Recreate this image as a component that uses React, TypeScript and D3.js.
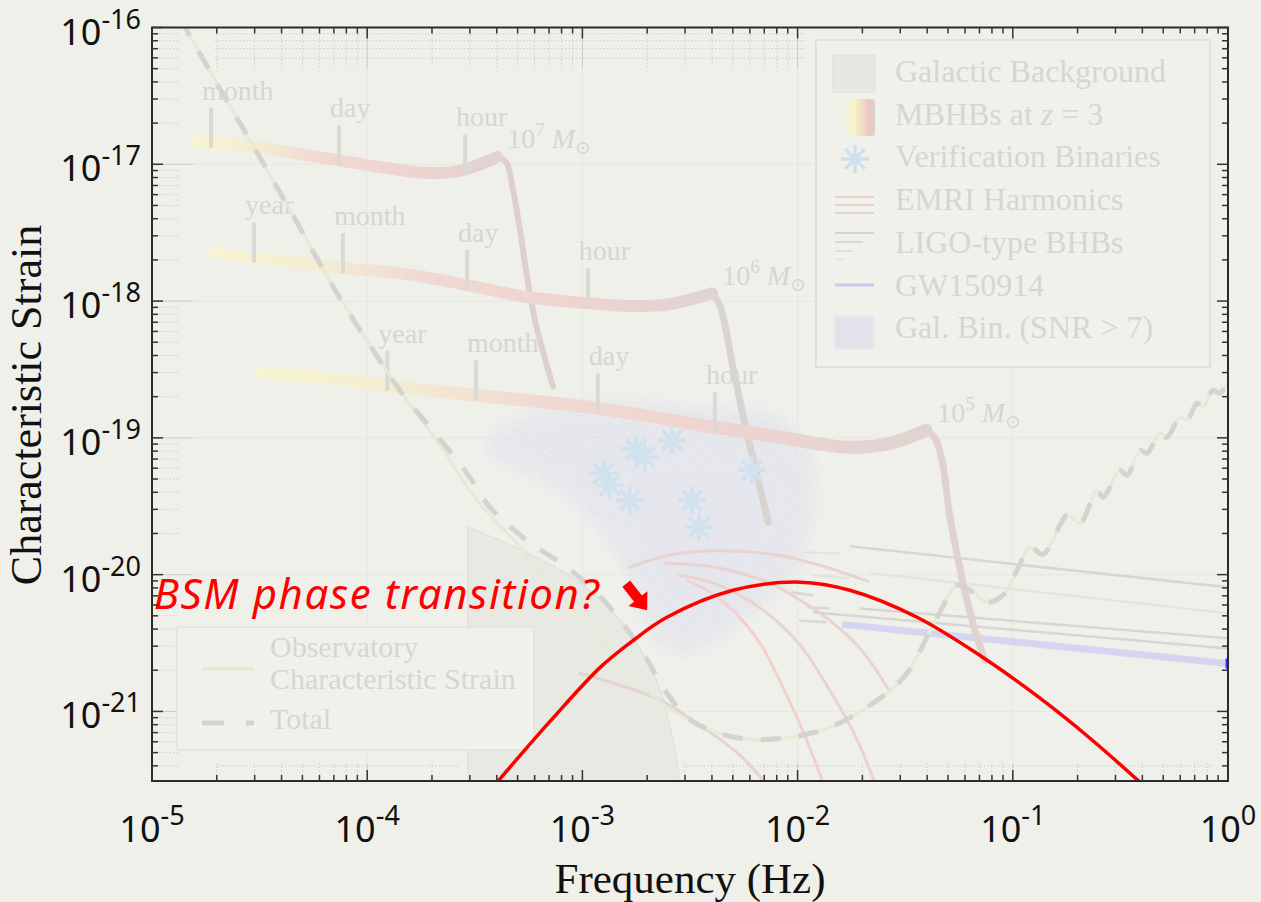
import React from "react";
import * as d3 from "d3";

const W = 1261, H = 902;
const PL = 152, PR = 1228, PT = 27.5, PB = 781;
const BG = "#f0f0eb";

const fDomain = [1e-5, 1];
const hDomain = [3.1e-22, 1e-16];
const xTickExps = [-5, -4, -3, -2, -1, 0];
const yTickExps = [-16, -17, -18, -19, -20, -21];

// Observatory characteristic strain (LISA-like sensitivity)
const sensitivity = [
  [1.35e-5, 1.17e-16], [1.96e-5, 4.13e-17], [2.85e-5, 1.5e-17], [4.38e-5, 4.62e-18],
  [7.24e-5, 1.14e-18], [1.03e-4, 4.75e-19], [1.45e-4, 2.12e-19], [2.18e-4, 8.83e-20],
  [3.24e-4, 3.49e-20], [4.97e-4, 1.69e-20], [7.07e-4, 8.36e-21], [1.05e-3, 4.41e-21],
  [1.72e-3, 1.77e-21], [2.75e-3, 9.66e-22], [4.36e-3, 6.9e-22], [6.01e-3, 6.24e-22],
  [9.22e-3, 6.46e-22], [1.41e-2, 7.64e-22], [2.17e-2, 1.11e-21], [3.16e-2, 1.83e-21],
  [4.45e-2, 4.88e-21], [5.51e-2, 8.36e-21], [6.32e-2, 7.69e-21], [7.67e-2, 6.28e-21],
  [9.0e-2, 7.08e-21], [0.1046, 1.07e-20], [0.12, 1.585e-20], [0.138, 1.41e-20],
  [0.1657, 2.3e-20], [0.1786, 2.72e-20], [0.2053, 2.38e-20], [0.246, 4.14e-20],
  [0.2625, 3.68e-20], [0.3148, 5.79e-20], [0.3395, 5.32e-20], [0.39, 8.11e-20],
  [0.4203, 7.71e-20], [0.483, 1.08e-19], [0.5206, 1.01e-19], [0.598, 1.42e-19],
  [0.645, 1.35e-19], [0.718, 1.79e-19], [0.765, 1.68e-19], [0.852, 2.23e-19],
  [0.918, 2.12e-19], [1.02, 2.87e-19],
];
// Total (with galactic confusion) where it departs from the sensitivity
const totalMid = [
  [2.07e-4, 1.08e-19], [2.91e-4, 5.51e-20], [3.72e-4, 3.1e-20], [5.53e-4, 1.78e-20],
  [8.48e-4, 1.13e-20], [1.17e-3, 7.29e-21], [1.5e-3, 4.63e-21], [1.85e-3, 2.94e-21],
  [2.47e-3, 1.36e-21], [3.16e-3, 8.74e-22],
];
// Galactic background shaded region, top edge
const galBgEdge = [
  [2.94e-4, 2.22e-20], [5.13e-4, 1.53e-20], [8.48e-4, 1.007e-20], [1.34e-3, 5.66e-21],
  [1.85e-3, 2.89e-21], [2.3e-3, 1.43e-21], [2.64e-3, 6.15e-22], [2.84e-3, 3.1e-22],
];
// Galactic binaries (SNR > 7) cloud outline
const galBinCloud = [
  [3.6e-4, 8.3e-20], [5.13e-4, 1.4e-19], [1.21e-3, 1.78e-19], [3.52e-3, 1.65e-19],
  [8.6e-3, 1.35e-19], [1.15e-2, 6.86e-20], [1.15e-2, 2.3e-20], [1.0e-2, 1.05e-20],
  [6.69e-3, 5.8e-21], [4.36e-3, 3.5e-21], [2.84e-3, 2.7e-21], [2.17e-3, 3.4e-21],
  [1.66e-3, 9.89e-21], [1.21e-3, 2.11e-20], [7.87e-4, 4.14e-20], [4.9e-4, 6.0e-20],
];
// denser core of the cloud
const galBinCore = [
  [1.3e-3, 6.0e-20], [3.0e-3, 8.0e-20], [7.5e-3, 6.0e-20], [8.5e-3, 2.2e-20],
  [5.5e-3, 7.0e-21], [3.2e-3, 4.2e-21], [2.1e-3, 6.5e-21], [1.5e-3, 2.0e-20],
];
// MBHB tracks
const mbhb7Inspiral = [
  [1.58e-5, 1.48e-17], [3.18e-5, 1.32e-17], [7.31e-5, 1.07e-17], [1.42e-4, 9.08e-18],
  [2.02e-4, 8.63e-18], [2.79e-4, 9.08e-18], [3.45e-4, 1.02e-17], [4.01e-4, 1.13e-17],
];
const mbhb7Ringdown = [
  [4.01e-4, 1.13e-17], [4.42e-4, 1.04e-17], [4.76e-4, 6.47e-18], [5.13e-4, 3.3e-18],
  [5.53e-4, 1.5e-18], [6.02e-4, 7.24e-19], [6.63e-4, 4.02e-19], [7.3e-4, 2.38e-19],
];
const mbhb6Inspiral = [
  [1.96e-5, 2.24e-18], [3.18e-5, 2.06e-18], [7.72e-5, 1.74e-18], [1.42e-4, 1.6e-18],
  [2.91e-4, 1.31e-18], [5.53e-4, 1.07e-18], [1.06e-3, 9.66e-19], [1.72e-3, 9.19e-19],
  [2.55e-3, 9.5e-19], [3.34e-3, 1.05e-18], [4.0e-3, 1.14e-18],
];
const mbhb6Ringdown = [
  [4.0e-3, 1.14e-18], [4.36e-3, 9.19e-19], [5.01e-3, 3.28e-19], [5.82e-3, 1.08e-19],
  [6.69e-3, 4.36e-20], [7.29e-3, 2.42e-20],
];
const mbhb5Inspiral = [
  [3.18e-5, 2.97e-19], [6.72e-5, 2.73e-19], [1.42e-4, 2.34e-19], [3.2e-4, 2.05e-19],
  [1.17e-3, 1.65e-19], [4.05e-3, 1.2e-19], [8.28e-3, 1.01e-19], [1.75e-2, 8.53e-20],
  [2.69e-2, 9.12e-20], [3.51e-2, 1.05e-19], [3.95e-2, 1.14e-19],
];
const mbhb5Ringdown = [
  [3.95e-2, 1.14e-19], [4.35e-2, 9.95e-20], [4.69e-2, 6.87e-20], [5.11e-2, 2.62e-20],
  [5.87e-2, 8.67e-21], [6.67e-2, 3.93e-21], [7.43e-2, 2.36e-21],
];
const mbhb7TickFreqs = [1.88e-5, 7.4e-5, 2.85e-4];
const mbhb7TickLabels = ["month", "day", "hour"];
const mbhb6TickFreqs = [2.98e-5, 7.72e-5, 2.91e-4, 1.06e-3];
const mbhb6TickLabels = ["year", "month", "day", "hour"];
const mbhb5TickFreqs = [1.24e-4, 3.2e-4, 1.18e-3, 4.13e-3];
const mbhb5TickLabels = ["year", "month", "day", "hour"];
const massLabelPos = [[4.47e-4, 1.32e-17], [4.46e-3, 1.31e-18], [4.45e-2, 1.3e-19]];
const massLabelExps = ["7", "6", "5"];

// Verification binaries
const verificationBinaries = [
  [1.25e-3, 5.51e-20], [1.34e-3, 4.51e-20], [1.66e-3, 3.49e-20], [1.77e-3, 8.26e-20],
  [1.95e-3, 7.22e-20], [2.61e-3, 9.59e-20], [3.23e-3, 3.49e-20], [3.48e-3, 2.22e-20],
  [6.14e-3, 5.79e-20],
];
// EMRI harmonics
const emriA = [[1.66e-3, 1.13e-20], [2.3e-3, 1.34e-20], [3.52e-3, 1.48e-20], [5.4e-3, 1.48e-20], [8.28e-3, 1.38e-20], [1.27e-2, 1.17e-20], [2.12e-2, 8.93e-21]];
const emriB = [[2.42e-3, 1.21e-20], [3.52e-3, 1.17e-20], [4.9e-3, 1.07e-20], [7.44e-3, 8.67e-21], [1.03e-2, 6.49e-21], [1.41e-2, 4.63e-21], [1.95e-2, 2.89e-21], [2.66e-2, 1.43e-21]];
const emriC = [[2.84e-3, 9.89e-21], [3.92e-3, 8.81e-21], [5.4e-3, 7.08e-21], [7.44e-3, 5.04e-21], [1.03e-2, 3.04e-21], [1.41e-2, 1.43e-21], [1.85e-2, 6.67e-22], [2.41e-2, 2.43e-22]];
const emriD = [[3.06e-3, 9.1e-21], [3.92e-3, 7.44e-21], [5.01e-3, 5.48e-21], [6.69e-3, 3.15e-21], [8.55e-3, 1.5e-21], [1.08e-2, 6.67e-22], [1.38e-2, 2.43e-22]];
const emriE = [[9.75e-4, 1.9e-21], [1.5e-3, 1.55e-21], [2.3e-3, 1.21e-21], [3.52e-3, 7.93e-22], [5.4e-3, 4.78e-22], [7.6e-3, 2.64e-22]];
// LIGO-type BHBs: [f1, h1, f2, h2]
const ligoLines = [
  [1.75e-2, 1.61e-20, 1.0, 8.07e-21], [2.17e-2, 1.03e-20, 1.0, 5.21e-21],
  [1.95e-2, 5.66e-21, 1.0, 3.42e-21], [1.18e-2, 5.3e-21, 1.0, 2.89e-21],
];
const ligoFragments = [
  [9.31e-3, 7.44e-21, 1.18e-2, 7.08e-21], [1.11e-2, 5.77e-21, 1.41e-2, 5.66e-21],
  [1.015e-2, 4.63e-21, 1.355e-2, 4.48e-21], [1.06e-2, 1.46e-20, 1.57e-2, 1.43e-20],
  [1.18e-2, 9.89e-21, 1.75e-2, 9.42e-21],
];
const gw150914 = [[1.61e-2, 4.33e-21], [1.0, 2.24e-21]];
// BSM phase transition
const bsmCurve = [
  [3.72e-4, 2.64e-22], [7.07e-4, 8.45e-22], [1.21e-3, 2.1e-21], [1.72e-3, 3.3e-21],
  [2.47e-3, 4.88e-21], [5.01e-3, 7.69e-21], [1.03e-2, 8.81e-21], [1.75e-2, 7.69e-21],
  [3.59e-2, 4.88e-21], [7.27e-2, 2.48e-21], [0.1338, 1.25e-21], [0.2284, 6.37e-22],
  [0.425, 2.69e-22],
];
const arrowTip = [2.0e-3, 5.48e-21];
const bsmLabel = "BSM phase transition?";

const legendLabels = ["Galactic Background", "MBHBs at ", "Verification Binaries", "EMRI Harmonics", "LIGO-type BHBs", "GW150914", "Gal. Bin. (SNR > 7)"];
const legend2Labels = ["Observatory", "Characteristic Strain", "Total"];

const SERIF = "'Liberation Serif', 'DejaVu Serif', serif";
const SANS = "'Noto Sans', 'DejaVu Sans', sans-serif";
const FAINT_TXT = "#d6d6d1";

function asterisk(cx, cy, r) {
  const d = r * Math.SQRT1_2;
  return `M${cx - r},${cy}L${cx + r},${cy}M${cx},${cy - r}L${cx},${cy + r}M${cx - d},${cy - d}L${cx + d},${cy + d}M${cx - d},${cy + d}L${cx + d},${cy - d}`;
}

export default function App() {
  const x = d3.scaleLog().domain(fDomain).range([PL, PR]);
  const y = d3.scaleLog().domain(hDomain).range([PB, PT]);
  const curve = d3.curveCatmullRom.alpha(0.5);
  const line = d3.line().x((d) => x(d[0])).y((d) => y(d[1])).curve(curve);
  const closed = d3.line().x((d) => x(d[0])).y((d) => y(d[1])).curve(d3.curveCatmullRomClosed.alpha(0.5));

  const total = [...sensitivity.slice(0, 7), ...totalMid, ...sensitivity.slice(14)];
  const galBgPath =
    line(galBgEdge) +
    `L${x(galBgEdge[galBgEdge.length - 1][0])},${PB + 2}L${x(galBgEdge[0][0])},${PB + 2}Z`;

  const isMajor = (t) => Math.abs(Math.log10(t) - Math.round(Math.log10(t))) < 1e-6;
  const xTicks = x.ticks();
  const yTicks = y.ticks();

  const tracks = [
    { id: "t7", ins: mbhb7Inspiral, ring: mbhb7Ringdown, tf: mbhb7TickFreqs, tl: mbhb7TickLabels, ringColor: "#e0d0cd", w: 12, rw: 6 },
    { id: "t6", ins: mbhb6Inspiral, ring: mbhb6Ringdown, tf: mbhb6TickFreqs, tl: mbhb6TickLabels, ringColor: "#d9d4d1", w: 12, rw: 7 },
    { id: "t5", ins: mbhb5Inspiral, ring: mbhb5Ringdown, tf: mbhb5TickFreqs, tl: mbhb5TickLabels, ringColor: "#e1d2cf", w: 13, rw: 7 },
  ];
  const trackStops = [
    [0, "#f6f4d2"], [0.2, "#f4edd3"], [0.42, "#f0d9d3"], [0.72, "#eed4d0"], [1, "#e0d3d0"],
  ];
  const trackY = (pts, f) => {
    const s = d3.scaleLinear().domain(pts.map((p) => Math.log10(p[0]))).range(pts.map((p) => Math.log10(p[1])));
    return y(Math.pow(10, s(Math.log10(f))));
  };

  const tip = [x(arrowTip[0]), y(arrowTip[1])];
  const legY0 = 82, legStep = 42.7;

  return (
    <svg width={W} height={H} style={{ position: "absolute", left: 0, top: 0, display: "block" }}>
      <defs>
        <clipPath id="plotClip">
          <rect x={PL} y={PT} width={PR - PL} height={PB - PT} />
        </clipPath>
        <filter id="cloudBlur" x="-20%" y="-20%" width="140%" height="140%">
          <feGaussianBlur stdDeviation="9" />
        </filter>
        <filter id="speckle" x="-20%" y="-20%" width="140%" height="140%">
          <feGaussianBlur in="SourceGraphic" stdDeviation="9" result="soft" />
          <feTurbulence type="fractalNoise" baseFrequency="0.9" numOctaves="1" seed="4" result="noise" />
          <feColorMatrix in="noise" type="matrix" values="0 0 0 0 0  0 0 0 0 0  0 0 0 0 0  0 0 0 4 -1.6" result="nmask" />
          <feComposite in="soft" in2="nmask" operator="in" />
        </filter>
        <filter id="legBlur">
          <feGaussianBlur stdDeviation="1.2" />
        </filter>
        {tracks.map((t) => (
          <linearGradient key={t.id} id={"grad" + t.id} gradientUnits="userSpaceOnUse"
            x1={x(t.ins[0][0])} x2={x(t.ins[t.ins.length - 1][0])} y1={0} y2={0}>
            {trackStops.map(([o, c], i) => <stop key={i} offset={o} stopColor={c} />)}
          </linearGradient>
        ))}
        <linearGradient id="legMBHB" x1="0" x2="1" y1="0" y2="0">
          <stop offset="0" stopColor="#f3f2dd" />
          <stop offset="0.3" stopColor="#f6f2c6" />
          <stop offset="0.55" stopColor="#f3e0c8" />
          <stop offset="0.78" stopColor="#edc6c1" />
          <stop offset="1" stopColor="#d8d0cd" />
        </linearGradient>
      </defs>

      <rect x={0} y={0} width={W} height={H} fill={BG} />

      {/* faint grid inside plot */}
      <g stroke="#e7e7e2" strokeWidth={1}>
        {xTickExps.slice(1, -1).map((e) => (
          <line key={"vx" + e} x1={x(Math.pow(10, e))} x2={x(Math.pow(10, e))} y1={PT} y2={PB} />
        ))}
        {yTickExps.slice(1).map((e) => (
          <line key={"hy" + e} x1={PL} x2={PR} y1={y(Math.pow(10, e))} y2={y(Math.pow(10, e))} />
        ))}
      </g>
      {/* grid visible in the margin strips */}
      <g fill="none" strokeWidth={1}>
        {xTicks.filter((t) => x(t) > 212 && x(t) < 806).map((t, i) => (
          <line key={"tg" + i} x1={x(t)} x2={x(t)} y1={PT} y2={68}
            stroke={isMajor(t) ? "#c9c9c5" : "#cdcdc9"} strokeDasharray={isMajor(t) ? null : "1.5,2"} />
        ))}
        {yTicks.filter((t) => y(t) > PT + 2 && y(t) < 67).map((t, i) => (
          <line key={"th" + i} x1={215} x2={805} y1={y(t)} y2={y(t)} stroke="#cdcdc9" strokeDasharray="1.5,2" />
        ))}
        {yTicks.filter((t) => y(t) > PT + 2 && y(t) < PB - 2).map((t, i) => (
          <line key={"lg" + i} x1={PL} x2={isMajor(t) ? PL + 41 : PL + 26} y1={y(t)} y2={y(t)}
            stroke={isMajor(t) ? "#c9c9c5" : "#cdcdc9"} strokeDasharray={isMajor(t) ? null : "1.5,2"} />
        ))}
        {yTicks.filter((t) => y(t) > 760 && y(t) < PB - 2).map((t, i) => (
          <g key={"bh" + i}>
            <line x1={215} x2={460} y1={y(t)} y2={y(t)} stroke="#cdcdc9" strokeDasharray="1.5,2" />
            <line x1={683} x2={1212} y1={y(t)} y2={y(t)} stroke="#cdcdc9" strokeDasharray="1.5,2" />
          </g>
        ))}
        {xTicks.filter((t) => (x(t) > 212 && x(t) < 462) || (x(t) > 680 && x(t) < 1214)).map((t, i) => (
          <line key={"bv" + i} x1={x(t)} x2={x(t)} y1={763} y2={PB}
            stroke={isMajor(t) ? "#c9c9c5" : "#cdcdc9"} strokeDasharray={isMajor(t) ? null : "1.5,2"} />
        ))}
      </g>

      <g clipPath="url(#plotClip)">
        {/* galactic background */}
        <path d={galBgPath} fill="#e8e9e3" stroke="#e1e2dc" strokeWidth={1.5} />
        {/* galactic binaries cloud */}
        <path d={closed(galBinCloud)} fill="#e8e9ee" filter="url(#cloudBlur)" opacity={0.7} />
        <path d={closed(galBinCloud)} fill="#dcdde8" filter="url(#speckle)" opacity={0.7} />
        <path d={closed(galBinCore)} fill="#e6e7ee" filter="url(#cloudBlur)" opacity={0.8} />
        {/* LIGO-type BHBs */}
        {ligoLines.map((l, i) => (
          <line key={"lg" + i} x1={x(l[0])} y1={y(l[1])} x2={x(l[2])} y2={y(l[3])}
            stroke={i === 1 ? "#e2e2de" : "#d6d6d2"} strokeWidth={i === 1 ? 2 : 2.5} />
        ))}
        {ligoFragments.map((l, i) => (
          <line key={"lf" + i} x1={x(l[0])} y1={y(l[1])} x2={x(l[2])} y2={y(l[3])}
            stroke={i >= 3 ? "#e3e3df" : "#d8d8d4"} strokeWidth={2.5} />
        ))}
        {/* GW150914 */}
        <path d={line(gw150914)} stroke="#d5d5ef" strokeWidth={7} fill="none" />
        <line x1={PR - 1} x2={PR - 1} y1={y(gw150914[1][1]) - 5} y2={y(gw150914[1][1]) + 5} stroke="#3a3aff" strokeWidth={3} />
        {/* EMRI harmonics */}
        {[emriA, emriB, emriC, emriD, emriE].map((e, i) => (
          <path key={"em" + i} d={line(e)} fill="none" strokeWidth={3} strokeLinecap="round"
            stroke={i === 3 ? "#f3d0cd" : i === 4 ? "#e6d2ce" : "#e9d3cf"} />
        ))}
        {/* MBHB tracks */}
        {tracks.map((t) => (
          <g key={t.id}>
            <path d={line(t.ring)} fill="none" stroke={t.ringColor} strokeWidth={t.rw} strokeLinecap="round" />
            <path d={line(t.ins)} fill="none" stroke={`url(#grad${t.id})`} strokeWidth={t.w} strokeLinecap="round" strokeLinejoin="round" />
            {t.tf.map((f, i) => {
              const ty = trackY(t.ins, f);
              return (
                <g key={i}>
                  <line x1={x(f)} x2={x(f)} y1={ty + 5} y2={ty - 35} stroke="#dadad5" strokeWidth={4} />
                  <text x={x(f) - 9} y={ty - 43} fontFamily={SERIF} fontSize={28} fill={FAINT_TXT}>{t.tl[i]}</text>
                </g>
              );
            })}
          </g>
        ))}
        {massLabelPos.map((p, i) => (
          <text key={"ml" + i} x={x(p[0])} y={y(p[1])} fontFamily={SERIF} fontSize={28} fill={FAINT_TXT}>
            10<tspan fontSize={19} dy={-12}>{massLabelExps[i]}</tspan>
            <tspan dy={12}> </tspan>
            <tspan fontStyle="italic">M</tspan>
            <tspan fontSize={19} dy={6}>⊙</tspan>
          </text>
        ))}
        {/* sensitivity and total */}
        <path d={line(sensitivity)} fill="none" stroke="#e2ebd4" strokeWidth={3} />
        <path d={line(total)} fill="none" stroke="#d3d3cf" strokeWidth={5} strokeDasharray="20,18" />
        {/* verification binaries */}
        {verificationBinaries.map((v, i) => (
          <path key={"vb" + i} d={asterisk(x(v[0]), y(v[1]), 14)} stroke="#d0e2ee" strokeWidth={4} fill="none" />
        ))}
      </g>

      {/* top-right legend */}
      <g>
        <rect x={816} y={40} width={394} height={327} fill="#f1f1ec" stroke="#dcdcd7" strokeWidth={1.5} />
        <rect x={833} y={55} width={42} height={37} fill="#e8e8e3" stroke="#e2e2dd" strokeWidth={1.5} rx={2} />
        <rect x={845} y={99} width={30} height={37} fill="url(#legMBHB)" rx={3} />
        <path d={asterisk(855, 159, 14)} stroke="#cde0ee" strokeWidth={3.5} fill="none" />
        {[197, 205, 213].map((yy, i) => (
          <line key={"le" + i} x1={835} x2={874} y1={yy} y2={yy} stroke="#e9cfcc" strokeWidth={2} />
        ))}
        <line x1={835} x2={874} y1={233} y2={233} stroke="#d5d1ce" strokeWidth={2} />
        <line x1={835} x2={863} y1={242} y2={242} stroke="#d9d7d4" strokeWidth={2} />
        <line x1={835} x2={853} y1={251} y2={251} stroke="#e1e0dc" strokeWidth={2} />
        <line x1={835} x2={845} y1={259} y2={259} stroke="#e7e6e2" strokeWidth={2} />
        <line x1={835} x2={874} y1={285} y2={285} stroke="#c9c9ee" strokeWidth={3} />
        <rect x={834} y={316} width={40} height={33} fill="#e2e3ea" filter="url(#legBlur)" />
        {legendLabels.map((lab, i) => (
          <text key={"lt" + i} x={895} y={legY0 + i * legStep} fontFamily={SERIF} fontSize={32} fill={FAINT_TXT}>
            {lab}
            {i === 1 ? <tspan><tspan fontStyle="italic">z</tspan> = 3</tspan> : null}
          </text>
        ))}
      </g>

      {/* lower-left legend */}
      <g>
        <rect x={177} y={627} width={357} height={123} fill="#f1f1ec" stroke="#e0e0db" strokeWidth={1.2} />
        <line x1={202} x2={254} y1={669} y2={669} stroke="#e2ebd4" strokeWidth={4} />
        <line x1={202} x2={254} y1={723} y2={723} stroke="#d3d3cf" strokeWidth={5} strokeDasharray="22,22" />
        <text x={270} y={657} fontFamily={SERIF} fontSize={30} fill={FAINT_TXT}>{legend2Labels[0]}</text>
        <text x={270} y={689} fontFamily={SERIF} fontSize={30} fill={FAINT_TXT}>{legend2Labels[1]}</text>
        <text x={270} y={729} fontFamily={SERIF} fontSize={30} fill={FAINT_TXT}>{legend2Labels[2]}</text>
      </g>

      {/* BSM curve on top */}
      <g clipPath="url(#plotClip)">
        <path d={line(bsmCurve)} fill="none" stroke="#ff0000" strokeWidth={3.5} />
      </g>

      {/* annotation */}
      <text x={tip[0] - 47} y={tip[1] - 1} textAnchor="end" fontFamily={SANS} fontStyle="italic" fontSize={42} letterSpacing={1.6} fill="#ff0000">
        {bsmLabel}
      </text>
      <polygon transform={`translate(${tip[0]},${tip[1]}) rotate(52)`}
        points="0,0 -15,-12 -15,-5 -34,-5 -34,5 -15,5 -15,12" fill="#ff0000" />

      {/* frame */}
      <rect x={PL} y={PT} width={PR - PL} height={PB - PT} fill="none" stroke="#2a2a2a" strokeWidth={2} />
      <g stroke="#333" strokeWidth={1.5}>
        {xTicks.map((t, i) => {
          const L = isMajor(t) ? 11 : 6;
          const px = x(t);
          return (
            <g key={"xt" + i}>
              <line x1={px} x2={px} y1={PB} y2={PB - L} />
              <line x1={px} x2={px} y1={PT} y2={PT + L} />
            </g>
          );
        })}
        {yTicks.map((t, i) => {
          const L = isMajor(t) ? 11 : 6;
          const py = y(t);
          return (
            <g key={"yt" + i}>
              <line x1={PL} x2={PL + L} y1={py} y2={py} />
              <line x1={PR} x2={PR - L} y1={py} y2={py} />
            </g>
          );
        })}
      </g>

      {/* tick labels */}
      {xTickExps.map((e) => (
        <text key={"xl" + e} x={x(Math.pow(10, e))} y={842} textAnchor="middle" fontFamily={SANS} fontSize={36} fill="#111">
          10<tspan fontSize={27} dy={-17}>{String(e)}</tspan>
        </text>
      ))}
      {yTickExps.map((e) => (
        <text key={"yl" + e} x={141} y={y(Math.pow(10, e)) + 17} textAnchor="end" fontFamily={SANS} fontSize={36} fill="#111">
          10<tspan fontSize={27} dy={-16}>{String(e)}</tspan>
        </text>
      ))}

      {/* axis titles */}
      <text x={690} y={893} textAnchor="middle" fontFamily={SERIF} fontSize={43} fill="#111">Frequency (Hz)</text>
      <text transform={`translate(41,405) rotate(-90)`} textAnchor="middle" fontFamily={SERIF} fontSize={44} fill="#111">
        Characteristic Strain
      </text>
    </svg>
  );
}
